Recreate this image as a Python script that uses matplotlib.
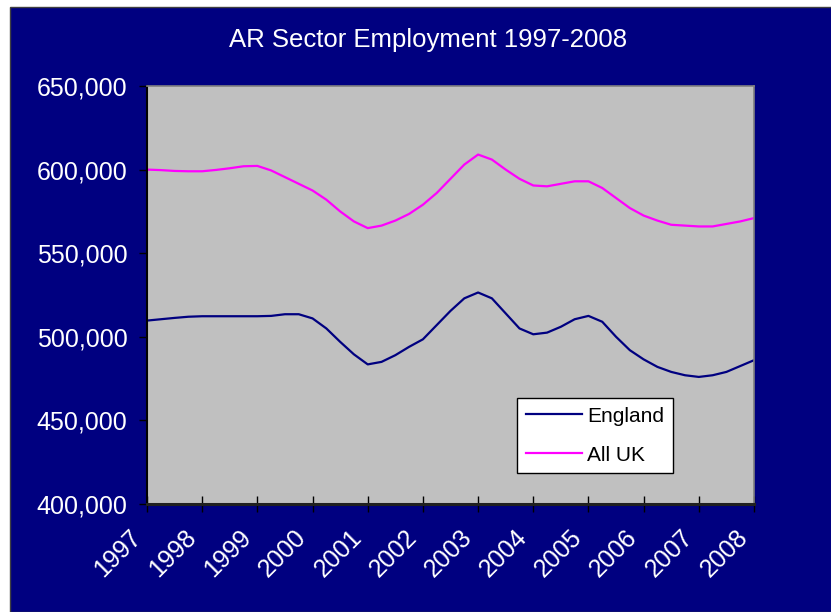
import matplotlib.pyplot as plt
import numpy as np
from matplotlib.patches import Rectangle
from matplotlib.ticker import FuncFormatter
from matplotlib.transforms import ScaledTranslation

plt.rcParams['font.family'] = ['Liberation Sans', 'DejaVu Sans']

# quarterly employment, 1997 Q1 .. 2008 Q1 (thousands)
england = [509.7, 510.5, 511.3, 512, 512.3, 512.3, 512.3, 512.3, 512.3,
           512.5, 513.5, 513.5, 511, 505, 497, 489.5, 483.5, 485, 489, 494,
           498.5, 507, 515.5, 523, 526.5, 523, 514, 505, 501.5, 502.5, 506,
           510.5, 512.5, 509, 500, 492, 486.5, 482, 479, 477, 476, 477, 479,
           482.5, 486]
all_uk = [600, 599.7, 599.2, 599, 599, 599.8, 600.8, 602, 602.2, 599.5,
          595.5, 591.5, 587.5, 582, 575, 569, 565, 566.5, 569.5, 573.5, 579,
          586, 594.5, 603, 609, 606, 600, 594.5, 590.5, 590, 591.5, 593, 593,
          589, 583, 577, 572.5, 569.5, 567, 566.5, 566, 566, 567.5, 569, 571]
years = list(range(1997, 2009))

t = 1997 + np.arange(len(england)) * 0.25

fig = plt.figure(figsize=(8.31, 6.12), dpi=100)
fig.patch.set_facecolor('white')
fig.patches.append(Rectangle((10 / 831, 0), 1, 605 / 612, transform=fig.transFigure,
                             facecolor='#000080', edgecolor='#404040', lw=1, zorder=-10))

ax = fig.add_axes([147 / 831, 108 / 612, 607 / 831, 418 / 612])
ax.set_facecolor('#C0C0C0')

ax.plot(t, np.array(england) * 1000, color='#000080', lw=1.6, label='England')
ax.plot(t, np.array(all_uk) * 1000, color='#FF00FF', lw=1.6, label='All UK')

ax.set_xlim(1997, 2008)
ax.set_ylim(400000, 650000)
ax.set_yticks(range(400000, 650001, 50000))
ax.yaxis.set_major_formatter(FuncFormatter(lambda v, p: f'{int(v):,}'))
ax.set_xticks(years)
ax.set_xticklabels([])

# year labels, slanted and sitting a little left of each tick
off = ScaledTranslation(-10 / 100, -30 / 100, fig.dpi_scale_trans)
for y in years:
    ax.text(y, 0, str(y), transform=ax.get_xaxis_transform() + off,
            rotation=45, rotation_mode='anchor', ha='right', va='center',
            color='white', fontsize=18, clip_on=False)

ax.tick_params(axis='y', direction='out', length=6, width=1, color='black',
               labelsize=18, labelcolor='white', pad=8)
ax.tick_params(axis='x', direction='inout', length=12, width=1, color='black')

for s in ['top', 'right']:
    ax.spines[s].set_color('#808080')
    ax.spines[s].set_linewidth(1.2)
ax.spines['left'].set_color('black')
ax.spines['left'].set_linewidth(1.5)
ax.spines['bottom'].set_color('#202020')
ax.spines['bottom'].set_linewidth(2.2)

fig.text(0.515, 0.935, 'AR Sector Employment 1997-2008', color='white',
         fontsize=18.5, ha='center', va='center')

leg = ax.legend(loc='upper left', bbox_to_anchor=(360 / 607, 1 - 302 / 418),
                fontsize=15, frameon=True, fancybox=False, framealpha=1,
                handlelength=2.7, borderpad=0.4, labelspacing=0.95,
                handletextpad=0.25)
leg.get_frame().set_edgecolor('black')
leg.get_frame().set_facecolor('white')
leg.get_frame().set_linewidth(1)

fig.savefig('out.png', dpi=100)
